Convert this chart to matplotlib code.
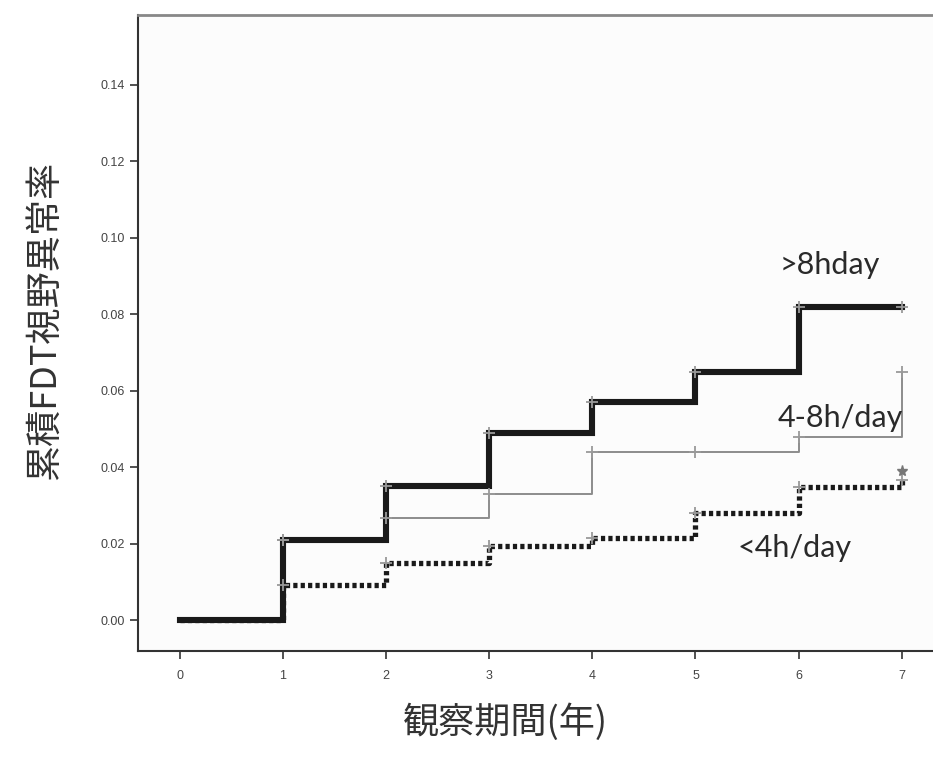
import matplotlib
matplotlib.use("Agg")
import matplotlib.pyplot as plt

years = [0, 1, 2, 3, 4, 5, 6, 7]
over8 = [0.0, 0.021, 0.035, 0.049, 0.057, 0.065, 0.082, 0.082]
mid48 = [0.0, 0.021, 0.0267, 0.033, 0.044, 0.044, 0.048, 0.065]
under4 = [0.0, 0.0092, 0.0149, 0.0194, 0.0215, 0.028, 0.0348, 0.0366]
under4_censor = 0.039
labels = [">8hday", "4-8h/day", "<4h/day"]
yticks = [0.00, 0.02, 0.04, 0.06, 0.08, 0.10, 0.12, 0.14]

fig = plt.figure(figsize=(9.33, 7.65), dpi=100)
ax = fig.add_axes([138/933, 1-651/765, 1.0-138/933, (651-15)/765])
ax.set_facecolor("#fcfcfc")

ax.set_xlim(-0.407, 7.304)
ax.set_ylim(-0.0081, 0.1583)

ax.step(years, mid48, where="post", color="#8c8c8c", lw=1.4, zorder=2)
ax.step(years, over8, where="post", color="#1a1a1a", lw=4.4, zorder=3, solid_joinstyle="miter")
ax.step(years, under4, where="post", color="#1a1a1a", lw=3.8, zorder=3,
        linestyle=(0, (0.8, 0.6)), dash_capstyle="butt")

mk = dict(marker="+", color="#999999", ms=9, mew=1.3, linestyle="none", zorder=4)
ax.plot(years[1:], over8[1:], **mk)
ax.plot(years[1:], mid48[1:], **mk)
ax.plot(years[1:], under4[1:], **mk)
ax.plot([7], [under4_censor], marker="*", color="#777777", ms=8, linestyle="none", zorder=4)

tfont = ["Lato", "DejaVu Sans"]
ax.text(5.82, 0.0929, labels[0], fontsize=22, color="#2a2a2a", ha="left", va="center", family=tfont)
ax.text(5.80, 0.0529, labels[1], fontsize=22, color="#2a2a2a", ha="left", va="center", family=tfont)
ax.text(5.41, 0.0188, labels[2], fontsize=22, color="#2a2a2a", ha="left", va="center", family=tfont)

ax.set_xticks(years)
ax.set_yticks(yticks)
ax.set_yticklabels([f"{v:.2f}" for v in yticks])
ax.tick_params(axis="both", direction="out", length=6, width=1.2, color="#333333",
               labelsize=9, labelcolor="#444444")
ax.tick_params(axis="x", pad=8)
for lab in ax.get_xticklabels() + ax.get_yticklabels():
    lab.set_family(["Liberation Sans", "DejaVu Sans"])

ax.spines["right"].set_visible(False)
ax.spines["left"].set_color("#333333")
ax.spines["left"].set_linewidth(1.5)
ax.spines["bottom"].set_color("#333333")
ax.spines["bottom"].set_linewidth(1.5)
ax.spines["top"].set_color("#888888")
ax.spines["top"].set_linewidth(2)

jp = ["Noto Sans CJK JP", "DejaVu Sans"]
fig.text(505/933, 1-722/765, "観察期間(年)", fontsize=26, color="#333333",
         ha="center", va="center", family=jp)
fig.text(45/933, 1-320/765, "累積FDT視野異常率", fontsize=26, color="#333333",
         ha="center", va="center", rotation=90, family=jp)

fig.savefig("out.png", dpi=100, facecolor="white")
